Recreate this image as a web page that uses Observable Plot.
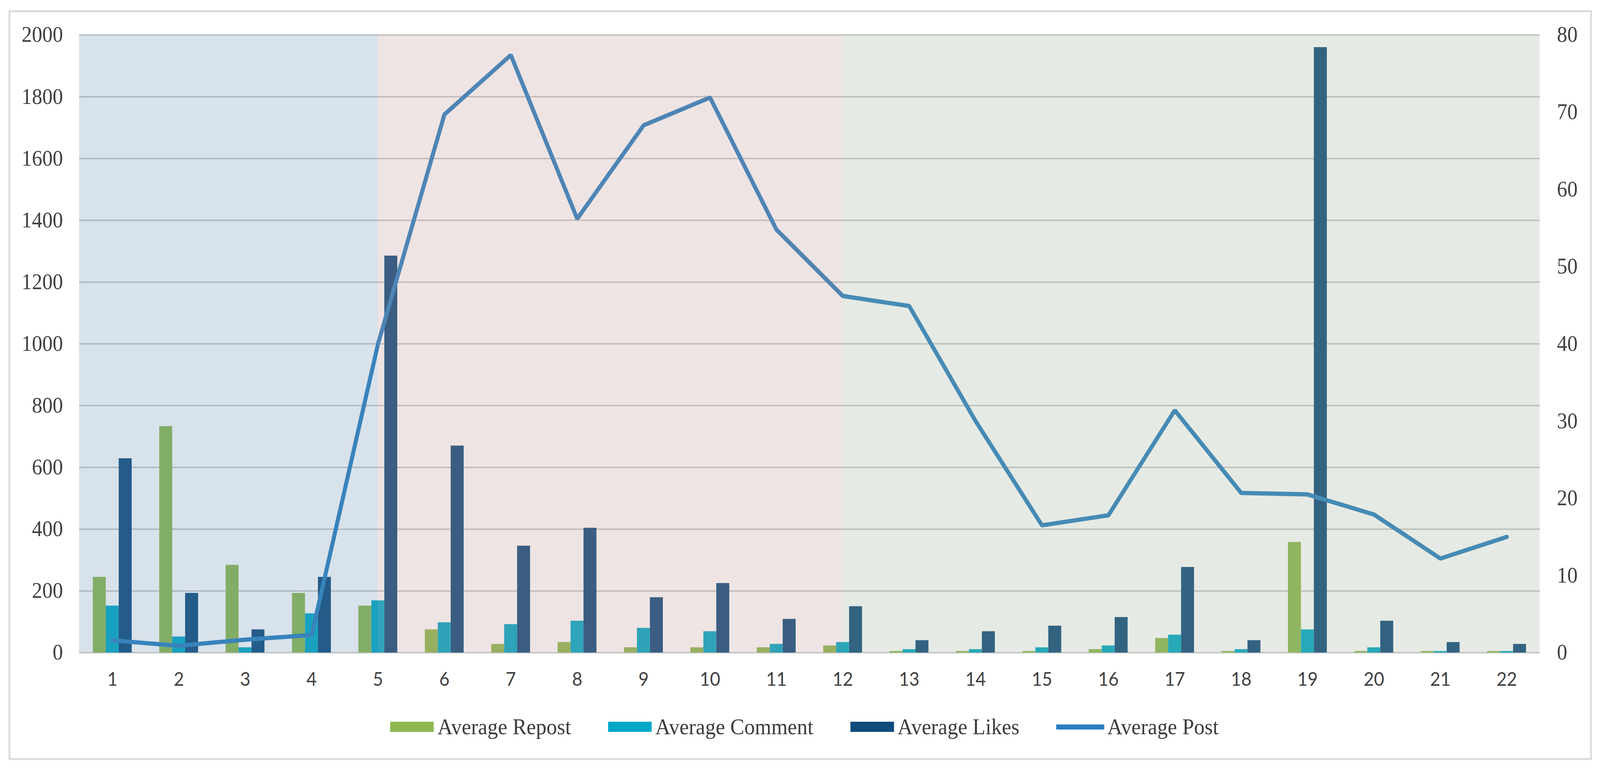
<!DOCTYPE html>
<html>
<head>
<meta charset="utf-8">
<script src="https://cdn.jsdelivr.net/npm/d3@7"></script>
<script src="https://cdn.jsdelivr.net/npm/@observablehq/plot@0.6"></script>
<style>
  html, body { margin: 0; padding: 0; background: #ffffff; overflow: hidden; }
  #page { position: absolute; left: 0; top: 0; width: 4331px; height: 1968px; transform-origin: 0 0; background: #ffffff; }
  #frame { position: absolute; left: 23px; top: 26px; width: 4286px; height: 1919px;
           border: 5px solid #dadada; box-sizing: border-box; }
  #chart { position: absolute; left: 0; top: 0; width: 4331px; height: 1790px; }
  #chart svg { max-width: none !important; }
  #legend { position: absolute; left: 0; top: 1831px; width: 4331px; height: 58px; padding-left: 24px;
            box-sizing: border-box;
            display: flex; justify-content: center; align-items: center;
            font-family: "Liberation Serif", "DejaVu Serif", serif; font-size: 57px; line-height: 58px; color: #3c3c3c; }
  .item { display: flex; align-items: center; margin: 0 50px; white-space: nowrap; }
  .sw { display: inline-block; width: 118px; height: 26px; margin-right: 10px; }
  .ln { display: inline-block; width: 130px; height: 13px; margin-right: 8px; }
</style>
</head>
<body>
<div id="page">
  <div id="frame"></div>
  <div id="chart"></div>
  <div id="legend"></div>
</div>
<script>
// ---- data ----
const periods = [1,2,3,4,5,6,7,8,9,10,11,12,13,14,15,16,17,18,19,20,21,22];
const seriesNames = ["Average Repost", "Average Comment", "Average Likes"];
const lineName = "Average Post";
const avgRepost  = [245,733,284,193,152,75,28,34,17,17,17,23,5,5,5,11,47,5,358,5,5,5];
const avgComment = [152,52,17,127,169,98,92,103,80,69,28,34,11,11,17,23,58,11,75,17,5,5];
const avgLikes   = [629,193,75,245,1285,670,346,404,179,225,109,150,40,69,87,115,277,40,1960,103,34,28];
const avgPost    = [1.6,0.9,1.7,2.3,40,69.7,77.4,56.2,68.3,71.9,54.8,46.2,44.9,30,16.5,17.8,31.4,20.7,20.5,17.9,12.2,15.0];
const leftTicks  = [0,200,400,600,800,1000,1200,1400,1600,1800,2000];
const rightTicks = [0,10,20,30,40,50,60,70,80];
const phaseStart = [0.5, 5, 12];
const phaseEnd   = [5, 12, 22.5];

// ---- styles ----
const barColors = ["#8db84f", "#00a8c6", "#0f4b7b"];
const lineColor = "#2a80c0";
const phaseColors = ["#638baf", "#bb9393", "#9bab93"];
const ratio = 2000 / 80; // right axis (Average Post) mapped onto left axis
const barW = 0.195;

const seriesValues = [avgRepost, avgComment, avgLikes];
const bars = [];
periods.forEach((p, i) => seriesValues.forEach((vals, k) => bars.push({period: p, k, value: vals[i]})));
const posts = periods.map((p, i) => ({period: p, post: avgPost[i]}));
const phases = phaseStart.map((s, i) => ({start: s, end: phaseEnd[i], i}));

const W = 4331, H = 1790;
const chart = Plot.plot({
  width: W, height: H,
  marginLeft: 214, marginRight: 163, marginTop: 89, marginBottom: 120,
  x: {domain: [0.5, 22.5]},
  y: {domain: [0, 2000]},
  style: {background: "transparent", color: "#404040"},
  marks: [
    Plot.gridY(leftTicks, {stroke: "#c6c6c6", strokeOpacity: 1, strokeWidth: 3.5}),
    ...[0, 1, 2].map(k => Plot.rectY(bars.filter(d => d.k === k), {
      x1: d => d.period - 1.5 * barW + d.k * barW,
      x2: d => d.period - 1.5 * barW + (d.k + 1) * barW,
      y1: 0, y2: "value", fill: barColors[k]
    })),
    Plot.line(posts, {x: "period", y: d => d.post * ratio, stroke: lineColor, strokeWidth: 11, strokeLinejoin: "miter"}),
    ...[0, 1, 2].map(i => Plot.rect(phases.filter(d => d.i === i), {
      x1: "start", x2: "end", y1: 0, y2: 2000, fill: phaseColors[i], fillOpacity: 0.25
    })),
    Plot.axisY(leftTicks, {anchor: "left", tickSize: 0, tickPadding: 44, fontSize: 56,
      fontFamily: "Liberation Serif", tickFormat: d => String(d), label: null}),
    Plot.axisY(rightTicks.map(t => t * ratio), {anchor: "right", tickSize: 0, tickPadding: 46, fontSize: 56,
      fontFamily: "Liberation Serif", tickFormat: d => String(d / ratio), label: null}),
    Plot.axisX(periods, {anchor: "bottom", tickSize: 0, tickPadding: 50, fontSize: 48,
      fontFamily: "Lato", tickFormat: d => String(d), label: null})
  ]
});
document.getElementById("chart").appendChild(chart);

// ---- legend ----
const legend = document.getElementById("legend");
seriesNames.forEach((name, k) => {
  const it = document.createElement("span"); it.className = "item";
  const sw = document.createElement("span"); sw.className = "sw"; sw.style.background = barColors[k];
  it.appendChild(sw); it.appendChild(document.createTextNode(name));
  legend.appendChild(it);
});
{
  const it = document.createElement("span"); it.className = "item";
  const sw = document.createElement("span"); sw.className = "ln"; sw.style.background = lineColor;
  it.appendChild(sw); it.appendChild(document.createTextNode(lineName));
  legend.appendChild(it);
}

// ---- fit the 4331x1968 design to the actual viewport ----
function fit() {
  const vw = window.innerWidth || document.documentElement.clientWidth || 4331;
  const vh = window.innerHeight || document.documentElement.clientHeight || 1968;
  const sx = vw / 4331, sy = vh / 1968;
  const page = document.getElementById("page");
  page.style.transform = "scale(" + sx + "," + sy + ")";
  document.body.style.width = vw + "px";
  document.body.style.height = vh + "px";
}
fit();
window.addEventListener("resize", fit);
</script>
</body>
</html>
